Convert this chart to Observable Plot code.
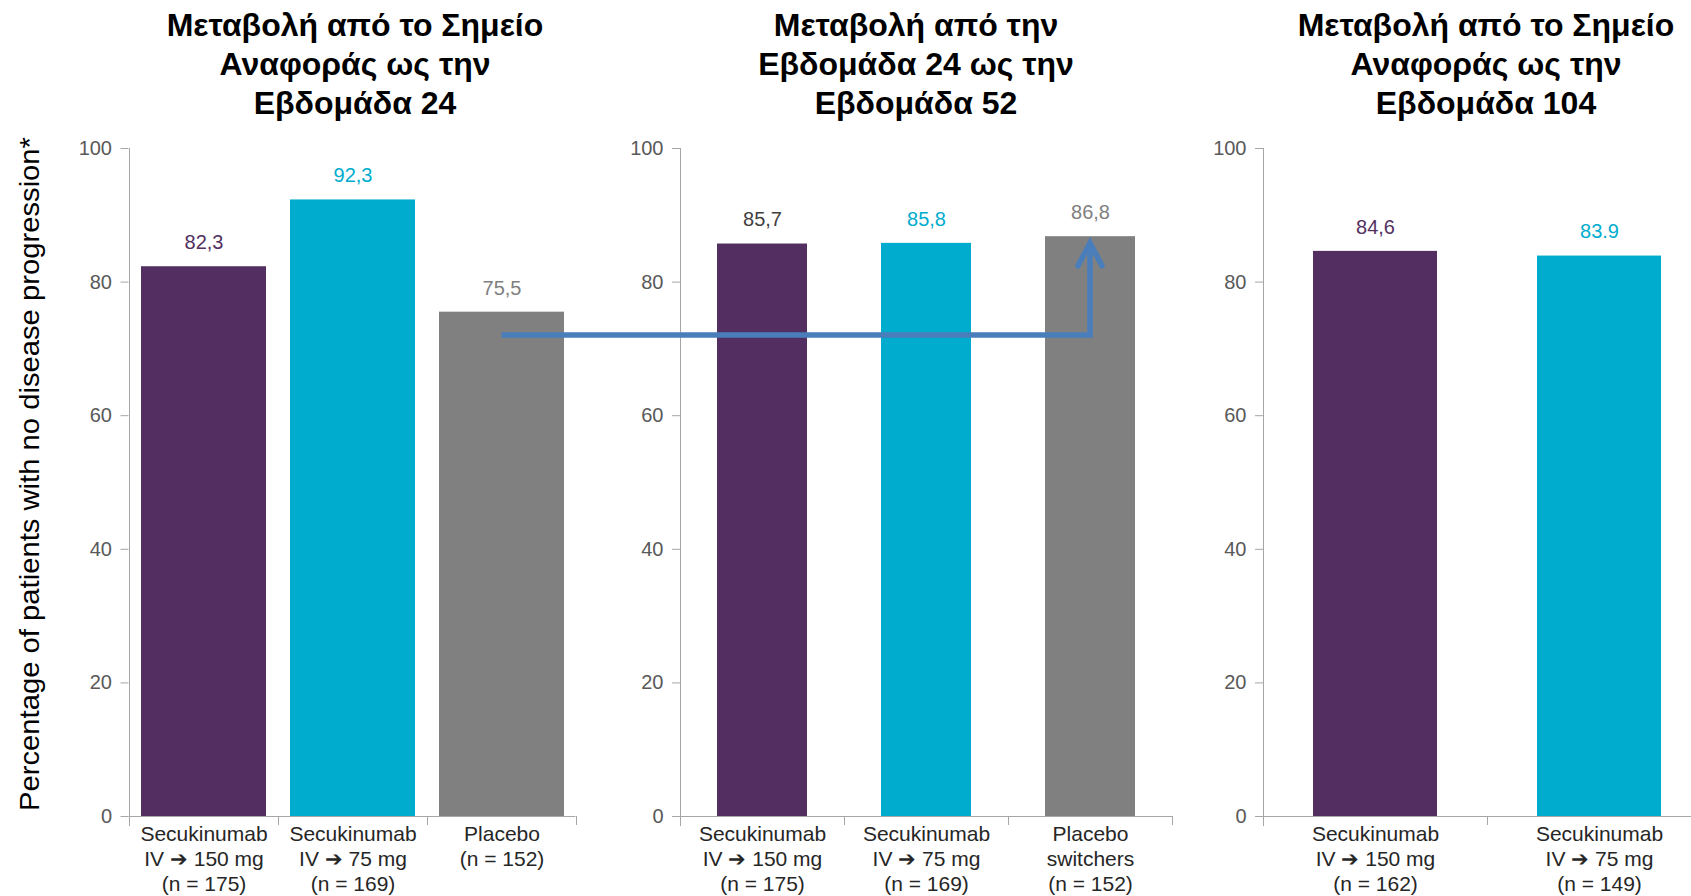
<!DOCTYPE html>
<html><head><meta charset="utf-8">
<script src="https://cdn.jsdelivr.net/npm/d3@7"></script>
<script src="https://cdn.jsdelivr.net/npm/@observablehq/plot@0.6"></script>
<style>
html,body{margin:0;padding:0;background:#fff;}
#chart{position:relative;width:1691px;height:896px;overflow:hidden;font-family:"Liberation Sans",Arial,sans-serif;}
.title{position:absolute;top:6px;font-weight:bold;font-size:32px;line-height:39px;text-align:center;color:#000;white-space:nowrap;transform:translateX(-50%);}
.panel{position:absolute;top:0;}
#overlay{position:absolute;left:0;top:0;pointer-events:none;}
</style></head><body><div id="chart"></div>
<script>
// ---- data ----
const titles = [
  ["Μεταβολή από το Σημείο", "Αναφοράς ως την", "Εβδομάδα 24"],
  ["Μεταβολή από την", "Εβδομάδα 24 ως την", "Εβδομάδα 52"],
  ["Μεταβολή από το Σημείο", "Αναφοράς ως την", "Εβδομάδα 104"]
];
const cats24 = ["Secukinumab\nIV ➔ 150 mg\n(n = 175)", "Secukinumab\nIV ➔ 75 mg\n(n = 169)", "Placebo\n(n = 152)"];
const values24 = [82.3, 92.3, 75.5];
const labels24 = ["82,3", "92,3", "75,5"];
const cats52 = ["Secukinumab\nIV ➔ 150 mg\n(n = 175)", "Secukinumab\nIV ➔ 75 mg\n(n = 169)", "Placebo\nswitchers\n(n = 152)"];
const values52 = [85.7, 85.8, 86.8];
const labels52 = ["85,7", "85,8", "86,8"];
const cats104 = ["Secukinumab\nIV ➔ 150 mg\n(n = 162)", "Secukinumab\nIV ➔ 75 mg\n(n = 149)"];
const values104 = [84.6, 83.9];
const labels104 = ["84,6", "83.9"];
const yTicks = [0, 20, 40, 60, 80, 100];
const yLabel = "Percentage of patients with no disease progression*";
const switchArrow = {from: cats24[2], to: cats52[2], level: 72, tip: 85.8};

// ---- styles ----
const PURPLE = "#532f61", CYAN = "#00acce", GRAY = "#808080", DARK = "#404040";
const barColors24 = [PURPLE, CYAN, GRAY];
const labelColors24 = [PURPLE, CYAN, GRAY];
const barColors52 = [PURPLE, CYAN, GRAY];
const labelColors52 = [DARK, CYAN, GRAY];
const barColors104 = [PURPLE, CYAN];
const labelColors104 = [PURPLE, CYAN];
const AXIS = "#a6a6a6";
const H = 896, MT = 148, MB = 80, MR = 10;
const FRAME_H = H - MT - MB;

const chart = document.getElementById("chart");

function panel(cfg) {
  const {cats, vals, labels, colors, lcolors, left, marginLeft, frameW, pad, title, titleX} = cfg;
  const data = cats.map((c, i) => ({cat: c, v: vals[i], label: labels[i], color: colors[i], lc: lcolors[i]}));
  const step = frameW / cats.length;
  const plot = Plot.plot({
    width: marginLeft + frameW + MR,
    height: H,
    marginTop: MT, marginBottom: MB, marginLeft, marginRight: MR,
    x: {domain: cats, paddingInner: pad, paddingOuter: pad / 2, axis: null},
    y: {domain: [0, 100], axis: null},
    color: {type: "identity"},
    style: {fontFamily: "'Liberation Sans', Arial, sans-serif", background: "transparent", overflow: "visible"},
    marks: [
      Plot.barY(data, {x: "cat", y: "v", fill: "color"}),
      // y axis ticks + labels
      Plot.ruleY(yTicks, {stroke: AXIS, insetLeft: -8, insetRight: frameW}),
      Plot.text(yTicks, {y: d => d, text: d => String(d), frameAnchor: "left", textAnchor: "end", dx: -17, fontSize: 20, fill: "#595959"}),
      // axis lines
      Plot.ruleY([0], {stroke: AXIS}),
      Plot.ruleX([cats[0]], {dx: -step / 2, stroke: AXIS, insetBottom: -10}),
      Plot.ruleX(cats, {dx: step / 2, stroke: AXIS, insetTop: FRAME_H, insetBottom: -9}),
      // category labels
      Plot.text(data, {x: "cat", text: "cat", frameAnchor: "bottom", lineAnchor: "top", dy: 6, lineHeight: 1.21, fontSize: 21, fill: "#262626"}),
      // value labels
      Plot.text(data, {x: "cat", y: "v", text: "label", fill: "lc", dy: -24, fontSize: 20})
    ]
  });
  plot.classList.add("panel");
  plot.style.left = left + "px";
  chart.appendChild(plot);
  const t = document.createElement("div");
  t.className = "title";
  t.style.left = titleX + "px";
  t.innerHTML = title.join("<br>");
  chart.appendChild(t);
  return {plot, left};
}

const p1 = panel({cats: cats24, vals: values24, labels: labels24, colors: barColors24, lcolors: labelColors24,
  left: 0, marginLeft: 128.5, frameW: 447, pad: 0.164, title: titles[0], titleX: 355});
const p2 = panel({cats: cats52, vals: values52, labels: labels52, colors: barColors52, lcolors: labelColors52,
  left: 590, marginLeft: 90, frameW: 492, pad: 0.45, title: titles[1], titleX: 916});
const p3 = panel({cats: cats104, vals: values104, labels: labels104, colors: barColors104, lcolors: labelColors104,
  left: 1185, marginLeft: 78, frameW: 448, pad: 0.446, title: titles[2], titleX: 1486});

// ---- overlay: y label + switch arrow ----
const svg = d3.create("svg").attr("id", "overlay").attr("width", 1691).attr("height", H);
svg.append("text")
  .attr("transform", "translate(29,474) rotate(-90)")
  .attr("text-anchor", "middle")
  .attr("dominant-baseline", "central")
  .attr("font-family", "'Liberation Sans', Arial, sans-serif")
  .attr("font-size", 28)
  .attr("fill", "#000")
  .attr("textLength", 674)
  .attr("lengthAdjust", "spacingAndGlyphs")
  .text(yLabel);

const xs1 = p1.plot.scale("x"), xs2 = p2.plot.scale("x"), ys = p1.plot.scale("y");
const xA = p1.left + xs1.apply(switchArrow.from) + xs1.bandwidth / 2;
const xB = p2.left + xs2.apply(switchArrow.to) + xs2.bandwidth / 2;
const yL = ys.apply(switchArrow.level);
const yT = ys.apply(switchArrow.tip);
const ARROW = "#4a7ebb";
svg.append("path")
  .attr("d", `M${xA},${yL}H${xB}V${yT + 2}`)
  .attr("fill", "none").attr("stroke", ARROW).attr("stroke-width", 5.5)
  .attr("stroke-linejoin", "miter");
svg.append("path")
  .attr("d", `M${xB - 12},${yT + 23}L${xB},${yT}L${xB + 12},${yT + 23}`)
  .attr("fill", "none").attr("stroke", ARROW).attr("stroke-width", 5.5)
  .attr("stroke-linecap", "round").attr("stroke-linejoin", "miter");
chart.appendChild(svg.node());
</script>
</body></html>
